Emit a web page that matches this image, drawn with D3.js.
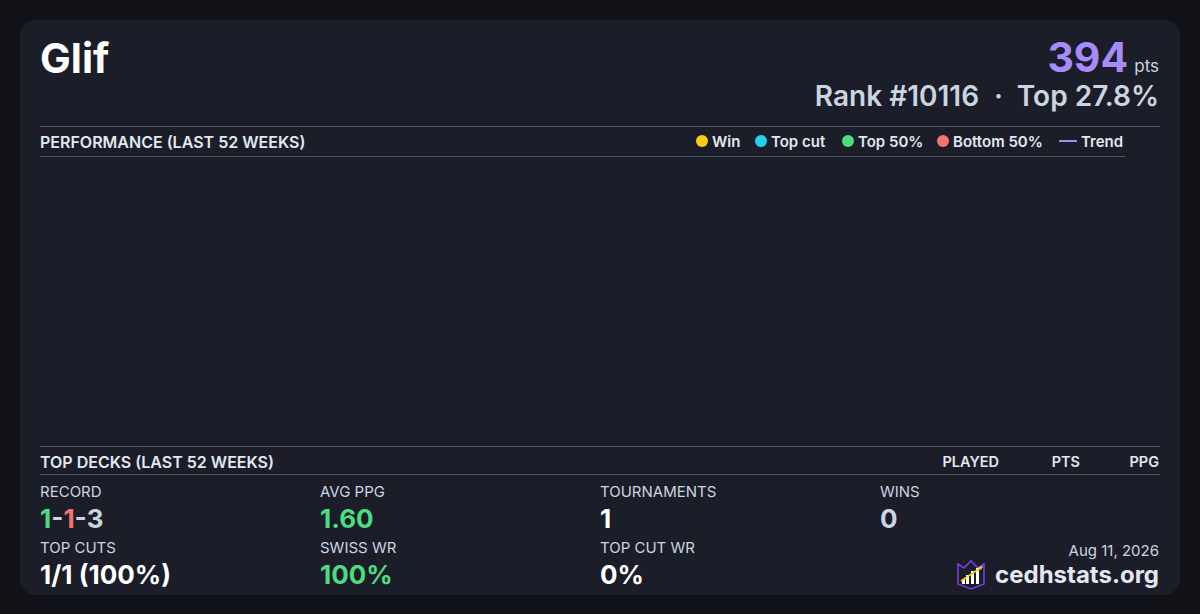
<!DOCTYPE html>
<meta charset="utf-8" />
<head>
  <style>
    body { margin: 0; background: #111217; }
    svg { display: block; font-family: Inter, "Noto Sans", sans-serif; }
    .rule { stroke: #4a5568; stroke-width: 1; }
    .head { fill: #e2e8f0; font-size: 16px; font-weight: 600; }
    .legtext { fill: #e2e8f0; font-size: 15px; font-weight: 600; }
    .colhead { fill: #e2e8f0; font-size: 14.5px; font-weight: 600; }
    .lbl { fill: #cbd5e1; font-size: 15px; }
    .val { font-size: 26px; font-weight: 700; }
  </style>
  <script src="https://cdn.jsdelivr.net/npm/d3@7"></script>
</head>
<body>
<script>
  // legend of the performance chart
  var legendNames = ["Win", "Top cut", "Top 50%", "Bottom 50%", "Trend"],
    legendColors = ["#facc15", "#22d3ee", "#4ade80", "#f87171", "#a78bfa"];

  // no tournaments plotted in the last 52 weeks
  var perfWeeks = [],
    perfPlacing = [];

  var deckColumns = ["PLAYED", "PTS", "PPG"];

  var statLabels = ["RECORD", "AVG PPG", "TOURNAMENTS", "WINS", "TOP CUTS", "SWISS WR", "TOP CUT WR"],
    statValues = [null, "1.60", "1", "0", "1/1 (100%)", "100%", "0%"],
    statColors = [null, "#4ade80", "#ffffff", "#cbd5e1", "#ffffff", "#4ade80", "#ffffff"];

  var record = ["1", "1", "3"],
    recordColors = ["#4ade80", "#f87171", "#cbd5e1"];

  var player = "Glif", points = 394, rank = 10116, topPct = 27.8, dateText = "Aug 11, 2026";

  var W = 1200, H = 614;
  var svg = d3.select("body").append("svg").attr("width", W).attr("height", H);

  svg.append("rect").attr("x", 20).attr("y", 20).attr("width", 1160).attr("height", 575)
    .attr("rx", 16).attr("fill", "#1b1d29");

  // header
  svg.append("text").attr("x", 40).attr("y", 73).attr("fill", "#ffffff")
    .attr("font-size", 41).attr("font-weight", 700).text(player);

  var ptsT = svg.append("text").attr("x", 1159).attr("y", 72).attr("text-anchor", "end");
  ptsT.append("tspan").attr("fill", "#a78bfa").attr("font-size", 41).attr("font-weight", 700).text(points);
  ptsT.append("tspan").attr("fill", "#cbd5e1").attr("font-size", 17).attr("dx", 6).text("pts");

  var rankT = svg.append("text").attr("x", 1159).attr("y", 106).attr("text-anchor", "end")
    .attr("fill", "#cbd5e1").attr("font-size", 28).attr("font-weight", 600);
  rankT.append("tspan").text("Rank #" + rank);
  rankT.append("tspan").attr("dx", 15).text("·");
  rankT.append("tspan").attr("dx", 16).text("Top " + topPct + "%");

  // performance section
  svg.append("line").attr("class", "rule").attr("x1", 40).attr("x2", 1160).attr("y1", 126.5).attr("y2", 126.5);
  svg.append("line").attr("class", "rule").attr("x1", 40).attr("x2", 1125).attr("y1", 156.5).attr("y2", 156.5);
  svg.append("text").attr("class", "head").attr("x", 40).attr("y", 147.5).text("PERFORMANCE (LAST 52 WEEKS)");

  var legendX = [702, 761, 848, 943, 1059];
  var leg = svg.selectAll(".leg").data(legendNames).enter().append("g")
    .attr("transform", function(d, i) { return "translate(" + legendX[i] + ",141)"; });
  leg.each(function(d, i) {
    var g = d3.select(this);
    if (d == "Trend") {
      g.append("line").attr("x1", 0).attr("x2", 18).attr("y1", 0).attr("y2", 0)
        .attr("stroke", legendColors[i]).attr("stroke-width", 2);
      g.append("text").attr("class", "legtext").attr("x", 22).attr("y", 5.5).text(d);
    } else {
      g.append("circle").attr("r", 6).attr("fill", legendColors[i]);
      g.append("text").attr("class", "legtext").attr("x", 10).attr("y", 5.5).text(d);
    }
  });

  var x = d3.scaleLinear().domain([0, 52]).range([60, 1110]),
    y = d3.scaleLinear().domain([0, 1]).range([430, 175]);
  var plot = svg.append("g");
  plot.selectAll("circle").data(perfWeeks).enter().append("circle")
    .attr("cx", function(d) { return x(d); })
    .attr("cy", function(d, i) { return y(perfPlacing[i]); })
    .attr("r", 5);

  // top decks section
  svg.append("line").attr("class", "rule").attr("x1", 40).attr("x2", 1160).attr("y1", 446.5).attr("y2", 446.5);
  svg.append("line").attr("class", "rule").attr("x1", 40).attr("x2", 1160).attr("y1", 474.5).attr("y2", 474.5);
  svg.append("text").attr("class", "head").attr("x", 40).attr("y", 467.5).text("TOP DECKS (LAST 52 WEEKS)");
  var colX = [999, 1080, 1159];
  svg.selectAll(".col").data(deckColumns).enter().append("text").attr("class", "colhead")
    .attr("text-anchor", "end")
    .attr("x", function(d, i) { return colX[i]; }).attr("y", 467).text(function(d) { return d; });

  // stats grid
  var gx = [40, 320, 600, 880], gy = [497, 553];
  statLabels.forEach(function(l, i) {
    var cx = gx[i % 4], cy = gy[Math.floor(i / 4)];
    svg.append("text").attr("class", "lbl").attr("x", cx).attr("y", cy).text(l);
    var v = svg.append("text").attr("class", "val").attr("x", cx).attr("y", cy + 31);
    if (i == 0) {
      record.forEach(function(r, k) {
        if (k > 0) v.append("tspan").attr("fill", "#cbd5e1").text("-");
        v.append("tspan").attr("fill", recordColors[k]).text(r);
      });
    } else {
      v.attr("fill", statColors[i]).text(statValues[i]);
    }
  });

  // footer
  svg.append("text").attr("x", 1159).attr("y", 556).attr("text-anchor", "end")
    .attr("fill", "#cbd5e1").attr("font-size", 15).text(dateText);
  svg.append("text").attr("x", 1159).attr("y", 583).attr("text-anchor", "end")
    .attr("fill", "#e2e8f0").attr("font-size", 24).attr("font-weight", 700).text("cedhstats.org");

  // logo
  var logo = svg.append("g").attr("transform", "translate(957,560)");
  logo.append("path").attr("d", "M1,4 L7,8 L14,1 L21,8 L27,4 L27,24 L14,29 L1,24 Z")
    .attr("fill", "#1b1d29").attr("stroke", "#7c3aed").attr("stroke-width", 1.6);
  [[5, 19, 3], [9, 15, 3], [14, 11, 3], [19, 8, 3]].forEach(function(b) {
    logo.append("rect").attr("x", b[0]).attr("y", b[1]).attr("width", b[2]).attr("height", 24 - b[1]).attr("fill", "#ffffff");
  });
  logo.append("line").attr("x1", 4).attr("y1", 21).attr("x2", 25).attr("y2", 7)
    .attr("stroke", "#facc15").attr("stroke-width", 1.6);
  logo.append("path").attr("d", "M26,6 L21,7 L24,10 Z").attr("fill", "#facc15");
</script>
</body>
